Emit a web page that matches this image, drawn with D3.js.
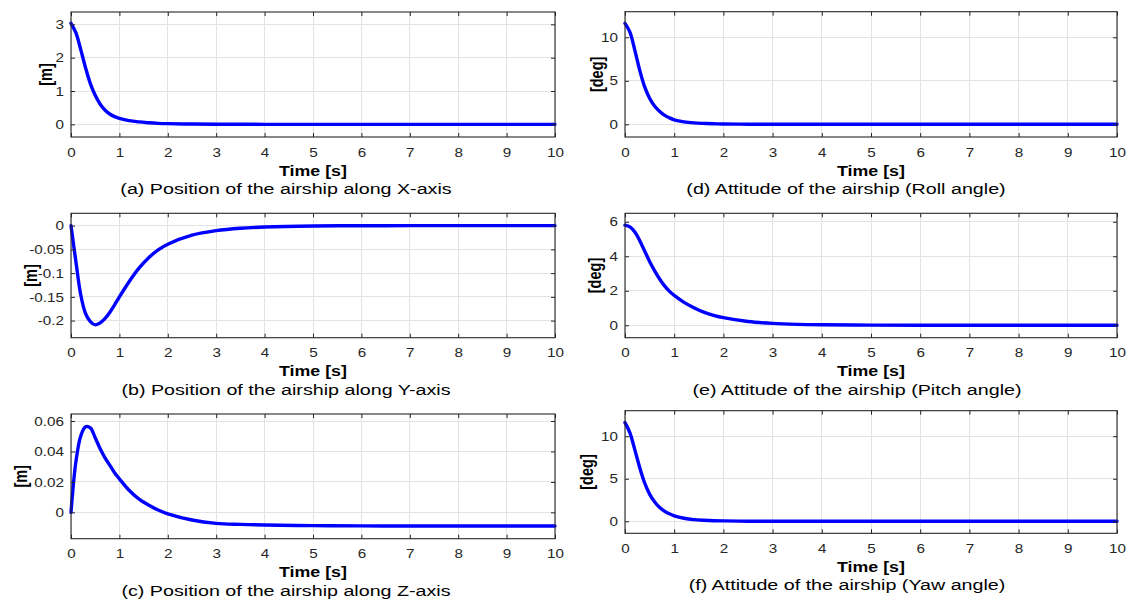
<!DOCTYPE html>
<html>
<head>
<meta charset="utf-8">
<script src="https://cdn.jsdelivr.net/npm/d3@7"></script>
<style>
  html, body { margin: 0; padding: 0; background: #fff; }
  svg { display: block; }
</style>
</head>
<body>
<svg id="chart" width="1128" height="602"></svg>
<script>
// ---------------- data ----------------
const time = [0, 0.1, 0.2, 0.3, 0.4, 0.5, 0.6, 0.7, 0.8, 0.9, 1.0,
              1.2, 1.4, 1.6, 1.8, 2.0, 2.5, 3, 3.5, 4, 5, 6, 7, 8, 9, 10];

const posX = [3.03, 2.75, 2.25, 1.7, 1.22, 0.87, 0.61, 0.43, 0.31, 0.23, 0.18,
              0.11, 0.072, 0.048, 0.03, 0.02, 0.008, 0.003, 0.001, 0, 0, 0, 0, 0, 0, 0];
const posY = [0, -0.075, -0.145, -0.185, -0.202, -0.209, -0.205, -0.196, -0.183, -0.167, -0.15,
              -0.118, -0.09, -0.068, -0.051, -0.039, -0.02, -0.0105, -0.0055, -0.003, -0.0008, -0.0002, 0, 0, 0, 0];
const posZ = [0, 0.033, 0.05, 0.0562, 0.0555, 0.049, 0.042, 0.036, 0.031, 0.026, 0.022,
              0.0145, 0.0088, 0.0048, 0.0015, -0.001, -0.005, -0.0072, -0.0079, -0.0083, -0.0087, -0.0089, -0.009, -0.009, -0.009, -0.009];
const roll  = [11.6, 10.6, 8.5, 6.2, 4.3, 3.0, 2.1, 1.5, 1.05, 0.75, 0.52,
               0.28, 0.16, 0.1, 0.06, 0.04, 0.01, 0, 0, 0, 0, 0, 0, 0, 0, 0];
const pitch = [5.8, 5.7, 5.4, 4.9, 4.3, 3.7, 3.17, 2.7, 2.3, 1.98, 1.73,
               1.33, 1.02, 0.76, 0.58, 0.44, 0.22, 0.11, 0.055, 0.03, 0.01, 0, 0, 0, 0, 0];
const yaw   = [11.6, 10.4, 8.4, 6.3, 4.5, 3.2, 2.3, 1.65, 1.2, 0.88, 0.65,
               0.36, 0.2, 0.12, 0.07, 0.045, 0.015, 0.005, 0, 0, 0, 0, 0, 0, 0, 0];

const xTicks = [0, 1, 2, 3, 4, 5, 6, 7, 8, 9, 10];
const yTicksA = [0, 1, 2, 3];
const yTicksB = [0, -0.05, -0.1, -0.15, -0.2];
const yTicksC = [0, 0.02, 0.04, 0.06];
const yTicksD = [0, 5, 10];
const yTicksE = [0, 2, 4, 6];
const yTicksF = [0, 5, 10];

const yDomA = [-0.38, 3.37];
const yDomB = [-0.236, 0.026];
const yDomC = [-0.0173, 0.0646];
const yDomD = [-1.46, 12.94];
const yDomE = [-0.72, 6.49];
const yDomF = [-1.41, 13.0];

const xLabel = "Time [s]";
const captions = [
  "(a) Position of the airship along X-axis",
  "(b) Position of the airship along Y-axis",
  "(c) Position of the airship along Z-axis",
  "(d) Attitude of the airship (Roll angle)",
  "(e) Attitude of the airship (Pitch angle)",
  "(f) Attitude of the airship (Yaw angle)"
];
const yLabels = ["[m]", "[m]", "[m]", "[deg]", "[deg]", "[deg]"];

// ---------------- layout ----------------
const SX = 1.27;  // horizontal stretch of text seen in the reference
const FONT = "'Liberation Sans', Arial, Helvetica, sans-serif";

const panels = [
  { vals: posX,  dom: yDomA, ticks: yTicksA, x0: 71,  x1: 555,  y0: 12,    y1: 137,   ylx: 46,  capx: 286 },
  { vals: posY,  dom: yDomB, ticks: yTicksB, x0: 71,  x1: 555,  y0: 213.3, y1: 337.7, ylx: 31,  capx: 286 },
  { vals: posZ,  dom: yDomC, ticks: yTicksC, x0: 71,  x1: 555,  y0: 414,   y1: 538.7, ylx: 21,  capx: 286 },
  { vals: roll,  dom: yDomD, ticks: yTicksD, x0: 625, x1: 1117, y0: 11.7,  y1: 137,   ylx: 597, capx: 846 },
  { vals: pitch, dom: yDomE, ticks: yTicksE, x0: 625, x1: 1117, y0: 213.3, y1: 337.7, ylx: 595, capx: 857 },
  { vals: yaw,   dom: yDomF, ticks: yTicksF, x0: 625, x1: 1117, y0: 410.7, y1: 533.3, ylx: 587, capx: 847 }
];

const svg = d3.select("#chart");
const fmt = v => (v === 0 ? "0" : String(v));

panels.forEach((p, i) => {
  const x = d3.scaleLinear().domain([0, 10]).range([p.x0, p.x1]);
  const y = d3.scaleLinear().domain(p.dom).range([p.y1, p.y0]);
  const g = svg.append("g");

  // grid
  g.append("g").selectAll("line").data(xTicks).join("line")
    .attr("x1", d => x(d)).attr("x2", d => x(d))
    .attr("y1", p.y0).attr("y2", p.y1)
    .attr("stroke", "#e3e3e3").attr("stroke-width", 1).attr("shape-rendering", "crispEdges");
  g.append("g").selectAll("line").data(p.ticks).join("line")
    .attr("x1", p.x0).attr("x2", p.x1)
    .attr("y1", d => y(d)).attr("y2", d => y(d))
    .attr("stroke", "#e3e3e3").attr("stroke-width", 1).attr("shape-rendering", "crispEdges");

  // data line
  const line = d3.line().x((d, k) => x(time[k])).y(d => y(d)).curve(d3.curveCatmullRom.alpha(0.5));
  g.append("path").datum(p.vals)
    .attr("d", line)
    .attr("fill", "none").attr("stroke", "#0000ff").attr("stroke-width", 3.4)
    .attr("stroke-linejoin", "round").attr("stroke-linecap", "round");

  // axes (inward ticks on all four sides)
  const axB = g.append("g").attr("transform", `translate(0,${p.y1})`)
    .call(d3.axisBottom(x).tickValues(xTicks).tickSizeInner(-4).tickSizeOuter(0).tickFormat(fmt));
  const axT = g.append("g").attr("transform", `translate(0,${p.y0})`)
    .call(d3.axisTop(x).tickValues(xTicks).tickSizeInner(-4).tickSizeOuter(0).tickFormat(""));
  const axL = g.append("g").attr("transform", `translate(${p.x0},0)`)
    .call(d3.axisLeft(y).tickValues(p.ticks).tickSizeInner(-4).tickSizeOuter(0).tickFormat(fmt));
  const axR = g.append("g").attr("transform", `translate(${p.x1},0)`)
    .call(d3.axisRight(y).tickValues(p.ticks).tickSizeInner(-4).tickSizeOuter(0).tickFormat(""));
  [axB, axT, axL, axR].forEach(a => {
    a.select(".domain").remove();
    a.selectAll(".tick line").attr("stroke", "#262626").attr("stroke-width", 1);
  });
  axB.selectAll(".tick text")
    .attr("x", null).attr("y", null).attr("dy", null)
    .attr("transform", `translate(0,19.5) scale(${SX},1)`)
    .attr("text-anchor", "middle")
    .attr("font-family", FONT).attr("font-size", 12).attr("fill", "#262626");
  axL.selectAll(".tick text")
    .attr("x", null).attr("y", null).attr("dy", "0.35em")
    .attr("transform", `translate(-7,0) scale(${SX},1)`)
    .attr("text-anchor", "end")
    .attr("font-family", FONT).attr("font-size", 12).attr("fill", "#262626");
  [axT, axR].forEach(a => a.selectAll(".tick text").remove());

  // box
  g.append("rect")
    .attr("x", p.x0).attr("y", p.y0)
    .attr("width", p.x1 - p.x0).attr("height", p.y1 - p.y0)
    .attr("fill", "none").attr("stroke", "#262626").attr("stroke-width", 1.1);

  // x label
  g.append("text")
    .attr("transform", `translate(${(p.x0 + p.x1) / 2},${p.y1 + 38.5}) scale(${SX},1)`)
    .attr("text-anchor", "middle")
    .attr("font-family", FONT).attr("font-size", 14).attr("font-weight", "bold")
    .attr("fill", "#000").text(xLabel);

  // y label
  g.append("text")
    .attr("transform", `translate(${p.ylx},${(p.y0 + p.y1) / 2}) scale(${SX},1) rotate(-90)`)
    .attr("text-anchor", "middle").attr("dy", "0.35em")
    .attr("font-family", FONT).attr("font-size", 14.5).attr("font-weight", "bold")
    .attr("fill", "#000").text(yLabels[i]);

  // caption
  g.append("text")
    .attr("transform", `translate(${p.capx},${p.y1 + 56.8}) scale(${SX},1)`)
    .attr("text-anchor", "middle")
    .attr("font-family", FONT).attr("font-size", 15.5)
    .attr("fill", "#000").text(captions[i]);
});
</script>
</body>
</html>
